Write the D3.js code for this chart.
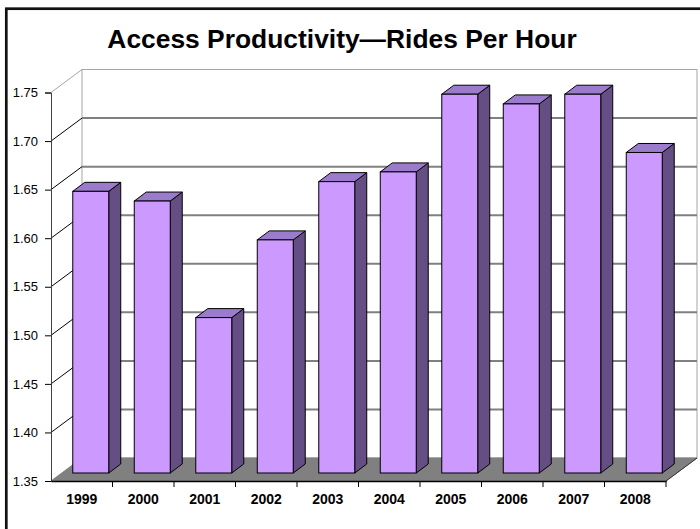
<!DOCTYPE html>
<html>
<head>
<meta charset="utf-8">
<script src="https://cdn.jsdelivr.net/npm/d3@7"></script>
<style>
  html, body { margin: 0; padding: 0; background: #fff; }
  svg { display: block; }
  text { font-family: "Liberation Sans", Arial, sans-serif; }
</style>
</head>
<body>
<svg id="chart" width="700" height="529"></svg>
<script>
// Rides per hour by year
const years = ["1999", "2000", "2001", "2002", "2003", "2004", "2005", "2006", "2007", "2008"];
const ridesPerHour = [1.64, 1.63, 1.51, 1.59, 1.65, 1.66, 1.74, 1.73, 1.74, 1.68];
const yTicks = [1.35, 1.40, 1.45, 1.50, 1.55, 1.60, 1.65, 1.70, 1.75];
const titleText = "Access Productivity\u2014Rides Per Hour";

const svg = d3.select("#chart");

// front plane of the plot box
const plotLeft = 51, plotRight = 666, plotBottom = 481, plotTop = 92.5;
// depth of the 3D box (wall offset)
const dx = 31, dy = -23;
// bar placement inside the depth
const barFront = { x: 9, y: -8 };
const barDepth = { x: 12, y: -9 };

const x = d3.scaleBand().domain(years).range([plotLeft, plotRight]).padding(0);
const y = d3.scaleLinear().domain([1.35, 1.75]).range([plotBottom, plotTop]);
const barW = x.bandwidth() * 0.585;

// outer frame
svg.append("rect")
  .attr("x", 6.3).attr("y", 8.7)
  .attr("width", 740).attr("height", 560)
  .attr("fill", "none").attr("stroke", "#111").attr("stroke-width", 2.7);

// title
svg.append("text")
  .attr("x", 342).attr("y", 48)
  .attr("text-anchor", "middle")
  .attr("font-size", 26.4).attr("font-weight", "bold")
  .attr("fill", "#000")
  .text(titleText);

const [yMin, yMax] = y.domain();

// back wall
svg.append("rect")
  .attr("x", plotLeft + dx).attr("y", y(yMax) + dy)
  .attr("width", plotRight - plotLeft).attr("height", y(yMin) - y(yMax))
  .attr("fill", "#fff").attr("stroke", "#a6a6a6").attr("stroke-width", 1);

// gridlines on the back wall
svg.append("g").selectAll("line")
  .data(yTicks.filter(v => v > yMin && v < yMax))
  .join("line")
  .attr("x1", plotLeft + dx).attr("x2", plotRight + dx)
  .attr("y1", d => y(d) + dy).attr("y2", d => y(d) + dy)
  .attr("stroke", "#808080").attr("stroke-width", 2);

// gridlines on the side wall
svg.append("g").selectAll("line")
  .data(yTicks.filter(v => v > yMin))
  .join("line")
  .attr("x1", plotLeft).attr("y1", d => y(d))
  .attr("x2", plotLeft + dx).attr("y2", d => y(d) + dy)
  .attr("stroke", d => d === yMax ? "#a6a6a6" : "#000")
  .attr("stroke-width", 1);

// floor
svg.append("polygon")
  .attr("points", [
    [plotLeft, y(yMin)], [plotRight, y(yMin)],
    [plotRight + dx, y(yMin) + dy], [plotLeft + dx, y(yMin) + dy]
  ].map(p => p.join(",")).join(" "))
  .attr("fill", "#808080").attr("stroke", "#808080").attr("stroke-width", 1);
svg.append("line")
  .attr("x1", plotRight).attr("y1", y(yMin))
  .attr("x2", plotRight + dx).attr("y2", y(yMin) + dy)
  .attr("stroke", "#333").attr("stroke-width", 1);

// bars
const bars = svg.append("g").selectAll("g")
  .data(years.map((yr, i) => ({ yr, v: ridesPerHour[i] })))
  .join("g");

bars.each(function(d) {
  const g = d3.select(this);
  const x0 = x(d.yr) + (x.bandwidth() - barW) / 2 + barFront.x;
  const x1 = x0 + barW;
  const yTop = y(d.v) + barFront.y;
  const yBot = y(yMin) + barFront.y;
  const pts = a => a.map(p => p.join(",")).join(" ");
  // side face
  g.append("polygon")
    .attr("points", pts([[x1, yTop], [x1 + barDepth.x, yTop + barDepth.y],
                         [x1 + barDepth.x, yBot + barDepth.y], [x1, yBot]]))
    .attr("fill", "#644e84").attr("stroke", "#000").attr("stroke-width", 1)
    .attr("stroke-linejoin", "round");
  // top face
  g.append("polygon")
    .attr("points", pts([[x0, yTop], [x0 + barDepth.x, yTop + barDepth.y],
                         [x1 + barDepth.x, yTop + barDepth.y], [x1, yTop]]))
    .attr("fill", "#9b7bcb").attr("stroke", "#000").attr("stroke-width", 1)
    .attr("stroke-linejoin", "round");
  // front face
  g.append("rect")
    .attr("x", x0).attr("y", yTop)
    .attr("width", barW).attr("height", yBot - yTop)
    .attr("fill", "#cc99ff").attr("stroke", "#000").attr("stroke-width", 1);
});

// value axis
const yAxis = svg.append("g")
  .attr("transform", `translate(${plotLeft},0)`)
  .call(d3.axisLeft(y).tickValues(yTicks).tickFormat(d3.format(".2f"))
    .tickSize(6).tickPadding(7));
yAxis.select(".domain").attr("stroke", "#404040");
yAxis.selectAll(".tick line").attr("stroke", "#000");
yAxis.selectAll(".tick text")
  .attr("font-size", 13).attr("fill", "#000")
  .attr("font-family", "'Liberation Sans', Arial, sans-serif");

// category axis
const xAxis = svg.append("g")
  .attr("transform", `translate(0,${plotBottom})`)
  .call(d3.axisBottom(x).tickSize(0).tickPadding(13));
xAxis.select(".domain").attr("stroke", "#000").attr("stroke-width", 1.5);
xAxis.selectAll(".tick text")
  .attr("font-size", 14).attr("font-weight", "bold").attr("fill", "#000")
  .attr("font-family", "'Liberation Sans', Arial, sans-serif");

// tick marks between categories
svg.append("g").selectAll("line")
  .data(years.slice(1).map(yr => x(yr)).concat([plotRight]))
  .join("line")
  .attr("x1", d => d).attr("x2", d => d)
  .attr("y1", plotBottom).attr("y2", plotBottom + 6)
  .attr("stroke", "#000").attr("stroke-width", 1);
</script>
</body>
</html>
